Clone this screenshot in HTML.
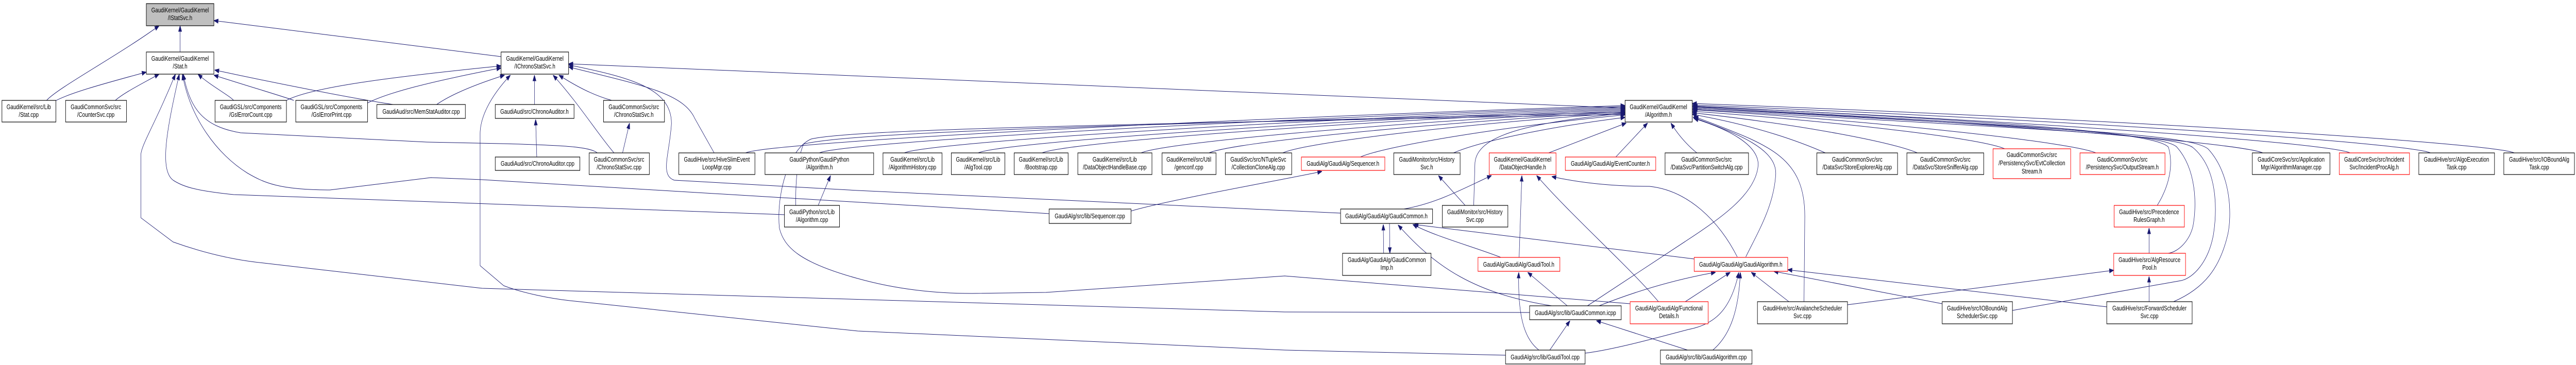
<!DOCTYPE html>
<html><head><meta charset="utf-8"><style>
html,body{margin:0;padding:0;background:#fff;overflow:hidden;}
svg{display:block;width:100vw;height:709px;}
text{font-family:"Liberation Sans",Arial,sans-serif;font-size:13px;fill:#000;text-anchor:middle;}
.e{fill:none;stroke:#191970;stroke-width:1;marker-start:url(#a);}
.n{fill:#fff;stroke:#000;stroke-width:1.2;}
.r{fill:#fff;stroke:#ff0000;stroke-width:1.2;}
</style></head><body>
<svg viewBox="0 0 6637 709" preserveAspectRatio="none" xmlns="http://www.w3.org/2000/svg" overflow="hidden">
<defs><marker id="a" markerUnits="userSpaceOnUse" markerWidth="12" markerHeight="10" refX="0" refY="0" viewBox="0 -5 12 10" orient="auto"><path d="M0,0 L11,-4 L11,4 z" fill="#191970" stroke="#191970"/></marker></defs>
<rect width="6637" height="709" fill="#fff"/>
<g>
<path class="e" d="M464,50 L464,101"/>
<path class="e" d="M410,50 C300,110 150,170 120,195"/>
<path class="e" d="M551,40 L1291,110"/>
<path class="e" d="M377,140 C280,160 180,180 140,197"/>
<path class="e" d="M410,144 C360,165 320,180 297,195"/>
<path class="e" d="M510,144 C540,165 590,185 602,195"/>
<path class="e" d="M551,146 C650,170 720,185 757,195"/>
<path class="e" d="M553,136 C700,160 900,190 1013,203"/>
<path class="e" d="M472,144 C490,210 520,245 620,258 L1100,276 L1291,279 C1450,282 1520,285 1539,297"/>
<path class="e" d="M470,144 C490,230 560,300 637,336 C680,355 720,369 850,369 L1110,345 L1242,349 L2703,415"/>
<path class="e" d="M462,144 C430,250 410,330 446,350 C470,362 500,370 602,378 L2021,417"/>
<path class="e" d="M452,144 C400,240 365,280 363,300 L363,423 L446,470 C520,490 600,505 680,511 L1242,560 L3310,606 L3941,607"/>
<path class="e" d="M1291,128 C1000,150 800,170 738,195"/>
<path class="e" d="M1291,132 C1100,160 1000,180 947,200"/>
<path class="e" d="M1300,146 C1200,170 1150,190 1125,203"/>
<path class="e" d="M1377,146 L1377,203"/>
<path class="e" d="M1380,232 L1383,305"/>
<path class="e" d="M1425,146 C1490,200 1540,260 1582,297"/>
<path class="e" d="M1622,239 L1604,297"/>
<path class="e" d="M1440,146 C1490,170 1530,185 1576,195"/>
<path class="e" d="M1465,130 C1650,165 1760,180 1790,230 L1840,297"/>
<path class="e" d="M1465,126 C1620,150 1730,170 1730,240 C1725,300 1700,340 1737,350 L2210,370 L3310,409 L3454,414"/>
<path class="e" d="M1315,146 C1260,190 1237,230 1237,260 L1237,516 L1298,555 C1350,570 1420,580 1468,584 L2210,643 L3310,680 L3879,690"/>
<path class="e" d="M1465,124 L4187,210"/>
<path class="e" d="M2140,341 L2108,399"/>
<path class="e" d="M3406,333 C3300,350 3000,390 2914,410"/>
<path class="e" d="M3706,341 L3775,399"/>
<path class="e" d="M4187,220 C3900,240 3800,270 3800,320 L3797,399"/>
<path class="e" d="M3843,341 C3760,370 3700,395 3617,406"/>
<path class="e" d="M3564,436 L3565,492"/>
<path class="e" d="M3581,492 L3580,434"/>
<path class="e" d="M3640,436 C3700,460 3800,480 3867,500"/>
<path class="e" d="M3921,341 L3914,500"/>
<path class="e" d="M3643,436 L4365,503"/>
<path class="e" d="M3998,343 C4100,360 4200,362 4250,362 C4350,370 4430,430 4476,499"/>
<path class="e" d="M3602,437 C3700,520 3800,570 3998,594"/>
<path class="e" d="M3936,529 L4038,594"/>
<path class="e" d="M4364,230 C4450,250 4530,280 4530,320 C4525,380 4420,430 4340,470 L4090,594"/>
<path class="e" d="M4420,529 C4300,545 4200,570 4120,594"/>
<path class="e" d="M3959,341 C4050,420 4200,520 4273,586"/>
<path class="e" d="M4458,529 L4342,586"/>
<path class="e" d="M4187,222 C3000,240 2200,250 2090,270 C2030,290 2000,380 2008,443 C2020,480 2060,510 2210,541 C2300,560 2400,570 2504,570 L2695,568 L3310,536 L4200,590"/>
<path class="e" d="M4187,218 C3000,240 2200,255 2070,280 C2050,320 2050,370 2050,399"/>
<path class="e" d="M3913,529 C3910,620 3930,660 3965,680"/>
<path class="e" d="M4045,623 L3993,680"/>
<path class="e" d="M4480,529 C4460,600 4420,630 4350,640 C4250,660 4150,680 4084,686"/>
<path class="e" d="M4113,623 L4348,680"/>
<path class="e" d="M4484,529 C4480,600 4460,650 4413,680"/>
<path class="e" d="M4512,529 L4609,586"/>
<path class="e" d="M4364,226 C4550,280 4650,300 4650,420 L4648,586"/>
<path class="e" d="M5446,525 L4760,592"/>
<path class="e" d="M4570,527 L5004,590"/>
<path class="e" d="M4362,212 C5200,250 5600,260 5649,286 C5720,330 5710,420 5703,455 C5690,510 5650,540 5620,545 L5185,603"/>
<path class="e" d="M4606,524 L5428,596"/>
<path class="e" d="M5537,537 L5537,586"/>
<path class="e" d="M4362,210 C5300,250 5650,260 5690,290 C5750,340 5750,420 5740,455 C5720,520 5680,560 5600,586"/>
<path class="e" d="M5537,443 L5537,492"/>
<path class="e" d="M4362,208 C5300,245 5580,262 5609,286 C5660,330 5660,400 5650,440 C5640,470 5610,490 5586,492"/>
<path class="e" d="M4362,206 C5300,240 5560,262 5587,286 C5600,320 5590,360 5558,399"/>
<path class="e" d="M4362,228 C4480,260 4580,290 4575,340 C4570,400 4530,450 4498,499"/>
<path class="e" d="M4245,239 L4163,305"/>
<path class="e" d="M4305,239 C4330,270 4360,290 4372,297"/>
<path class="e" d="M4190,239 L3990,297"/>
<path class="e" d="M4187,205 C3054,233 1981,277 1921,297"/>
<path class="e" d="M4187,207 C3149,234 2171,277 2111,297"/>
<path class="e" d="M4187,209 C3258,235 2390,277 2330,297"/>
<path class="e" d="M4187,211 C3353,237 2580,277 2520,297"/>
<path class="e" d="M4187,213 C3436,238 2745,277 2685,297"/>
<path class="e" d="M4187,215 C3563,239 3000,277 2940,297"/>
<path class="e" d="M4187,217 C3651,241 3175,277 3115,297"/>
<path class="e" d="M4187,219 C3746,242 3365,277 3305,297"/>
<path class="e" d="M4187,223 C3846,248 3565,285 3505,305"/>
<path class="e" d="M4187,228 C3966,249 3805,277 3745,297"/>
<path class="e" d="M4360,222 C4531,245 4643,277 4703,297"/>
<path class="e" d="M4360,219 C4650,243 4880,277 4940,297"/>
<path class="e" d="M4360,216 C4762,238 5105,269 5165,289"/>
<path class="e" d="M4360,213 C4880,238 5340,277 5400,297"/>
<path class="e" d="M4360,210 C5095,236 5770,277 5830,297"/>
<path class="e" d="M4360,207 C5207,234 5995,277 6055,297"/>
<path class="e" d="M4360,204 C5311,232 6202,277 6262,297"/>
<path class="e" d="M4360,201 C5419,230 6418,277 6478,297"/>
</g>
<g>
<rect x="377" y="7" width="174" height="43" fill="#bfbfbf" stroke="#000" stroke-width="1.2"/><text x="464" y="24">GaudiKernel/GaudiKernel</text><text x="464" y="39">/IStatSvc.h</text>
<rect class="n" x="377" y="101" width="174" height="43"/><text x="464" y="118">GaudiKernel/GaudiKernel</text><text x="464" y="133">/Stat.h</text>
<rect class="n" x="5" y="195" width="139" height="42"/><text x="74" y="212">GaudiKernel/src/Lib</text><text x="74" y="227">/Stat.cpp</text>
<rect class="n" x="169" y="195" width="157" height="42"/><text x="247" y="212">GaudiCommonSvc/src</text><text x="247" y="227">/CounterSvc.cpp</text>
<rect class="n" x="554" y="195" width="184" height="42"/><text x="646" y="212">GaudiGSL/src/Components</text><text x="646" y="227">/GslErrorCount.cpp</text>
<rect class="n" x="762" y="195" width="185" height="42"/><text x="854" y="212">GaudiGSL/src/Components</text><text x="854" y="227">/GslErrorPrint.cpp</text>
<rect class="n" x="971" y="203" width="228" height="27"/><text x="1085" y="221">GaudiAud/src/MemStatAuditor.cpp</text>
<rect class="n" x="1291" y="101" width="174" height="43"/><text x="1378" y="118">GaudiKernel/GaudiKernel</text><text x="1378" y="133">/IChronoStatSvc.h</text>
<rect class="n" x="1276" y="203" width="203" height="27"/><text x="1377" y="221">GaudiAud/src/ChronoAuditor.h</text>
<rect class="n" x="1555" y="195" width="157" height="42"/><text x="1633" y="212">GaudiCommonSvc/src</text><text x="1633" y="227">/ChronoStatSvc.h</text>
<rect class="n" x="1276" y="305" width="218" height="26"/><text x="1385" y="322">GaudiAud/src/ChronoAuditor.cpp</text>
<rect class="n" x="1518" y="297" width="155" height="42"/><text x="1595" y="314">GaudiCommonSvc/src</text><text x="1595" y="329">/ChronoStatSvc.cpp</text>
<rect class="n" x="1749" y="297" width="196" height="42"/><text x="1847" y="314">GaudiHive/src/HiveSlimEvent</text><text x="1847" y="329">LoopMgr.cpp</text>
<rect class="n" x="1971" y="297" width="280" height="42"/><text x="2111" y="314">GaudiPython/GaudiPython</text><text x="2111" y="329">/Algorithm.h</text>
<rect class="n" x="2021" y="399" width="142" height="42"/><text x="2092" y="416">GaudiPython/src/Lib</text><text x="2092" y="431">/Algorithm.cpp</text>
<rect class="n" x="2275" y="297" width="152" height="42"/><text x="2351" y="314">GaudiKernel/src/Lib</text><text x="2351" y="329">/AlgorithmHistory.cpp</text>
<rect class="n" x="2451" y="297" width="138" height="42"/><text x="2520" y="314">GaudiKernel/src/Lib</text><text x="2520" y="329">/AlgTool.cpp</text>
<rect class="n" x="2613" y="297" width="139" height="42"/><text x="2682" y="314">GaudiKernel/src/Lib</text><text x="2682" y="329">/Bootstrap.cpp</text>
<rect class="n" x="2777" y="297" width="191" height="42"/><text x="2872" y="314">GaudiKernel/src/Lib</text><text x="2872" y="329">/DataObjectHandleBase.cpp</text>
<rect class="n" x="2994" y="297" width="139" height="42"/><text x="3063" y="314">GaudiKernel/src/Util</text><text x="3063" y="329">/genconf.cpp</text>
<rect class="n" x="3157" y="297" width="171" height="42"/><text x="3242" y="314">GaudiSvc/src/NTupleSvc</text><text x="3242" y="329">/CollectionCloneAlg.cpp</text>
<rect class="n" x="2703" y="406" width="211" height="28"/><text x="2808" y="424">GaudiAlg/src/lib/Sequencer.cpp</text>
<rect class="r" x="3353" y="305" width="215" height="26"/><text x="3460" y="322">GaudiAlg/GaudiAlg/Sequencer.h</text>
<rect class="n" x="3591" y="297" width="171" height="42"/><text x="3676" y="314">GaudiMonitor/src/History</text><text x="3676" y="329">Svc.h</text>
<rect class="r" x="3837" y="297" width="172" height="42"/><text x="3923" y="314">GaudiKernel/GaudiKernel</text><text x="3923" y="329">/DataObjectHandle.h</text>
<rect class="r" x="4033" y="305" width="233" height="26"/><text x="4149" y="322">GaudiAlg/GaudiAlg/EventCounter.h</text>
<rect class="n" x="4290" y="297" width="215" height="42"/><text x="4397" y="314">GaudiCommonSvc/src</text><text x="4397" y="329">/DataSvc/PartitionSwitchAlg.cpp</text>
<rect class="n" x="4187" y="195" width="173" height="42"/><text x="4273" y="212">GaudiKernel/GaudiKernel</text><text x="4273" y="227">/Algorithm.h</text>
<rect class="n" x="3716" y="399" width="169" height="42"/><text x="3800" y="416">GaudiMonitor/src/History</text><text x="3800" y="431">Svc.cpp</text>
<rect class="n" x="3454" y="406" width="237" height="28"/><text x="3572" y="424">GaudiAlg/GaudiAlg/GaudiCommon.h</text>
<rect class="n" x="3459" y="492" width="228" height="43"/><text x="3573" y="509">GaudiAlg/GaudiAlg/GaudiCommon</text><text x="3573" y="524">Imp.h</text>
<rect class="r" x="3808" y="500" width="211" height="27"/><text x="3913" y="518">GaudiAlg/GaudiAlg/GaudiTool.h</text>
<rect class="r" x="4365" y="500" width="241" height="27"/><text x="4485" y="518">GaudiAlg/GaudiAlg/GaudiAlgorithm.h</text>
<rect class="n" x="3941" y="594" width="236" height="27"/><text x="4059" y="612">GaudiAlg/src/lib/GaudiCommon.icpp</text>
<rect class="r" x="4200" y="586" width="201" height="43"/><text x="4300" y="603">GaudiAlg/GaudiAlg/Functional</text><text x="4300" y="618">Details.h</text>
<rect class="n" x="3879" y="680" width="205" height="27"/><text x="3981" y="698">GaudiAlg/src/lib/GaudiTool.cpp</text>
<rect class="n" x="4278" y="680" width="236" height="27"/><text x="4396" y="698">GaudiAlg/src/lib/GaudiAlgorithm.cpp</text>
<rect class="n" x="4681" y="297" width="208" height="42"/><text x="4785" y="314">GaudiCommonSvc/src</text><text x="4785" y="329">/DataSvc/StoreExplorerAlg.cpp</text>
<rect class="n" x="4913" y="297" width="198" height="42"/><text x="5012" y="314">GaudiCommonSvc/src</text><text x="5012" y="329">/DataSvc/StoreSnifferAlg.cpp</text>
<rect class="r" x="5135" y="289" width="200" height="58"/><text x="5235" y="305">GaudiCommonSvc/src</text><text x="5235" y="321">/PersistencySvc/EvtCollection</text><text x="5235" y="337">Stream.h</text>
<rect class="r" x="5359" y="297" width="219" height="42"/><text x="5468" y="314">GaudiCommonSvc/src</text><text x="5468" y="329">/PersistencySvc/OutputStream.h</text>
<rect class="r" x="5447" y="399" width="181" height="42"/><text x="5537" y="416">GaudiHive/src/Precedence</text><text x="5537" y="431">RulesGraph.h</text>
<rect class="r" x="5446" y="492" width="185" height="43"/><text x="5538" y="509">GaudiHive/src/AlgResource</text><text x="5538" y="524">Pool.h</text>
<rect class="n" x="4528" y="586" width="232" height="43"/><text x="4644" y="603">GaudiHive/src/AvalancheScheduler</text><text x="4644" y="618">Svc.cpp</text>
<rect class="n" x="5004" y="586" width="181" height="43"/><text x="5094" y="603">GaudiHive/src/IOBoundAlg</text><text x="5094" y="618">SchedulerSvc.cpp</text>
<rect class="n" x="5428" y="586" width="220" height="43"/><text x="5538" y="603">GaudiHive/src/ForwardScheduler</text><text x="5538" y="618">Svc.cpp</text>
<rect class="n" x="5803" y="297" width="200" height="42"/><text x="5903" y="314">GaudiCoreSvc/src/Application</text><text x="5903" y="329">Mgr/AlgorithmManager.cpp</text>
<rect class="r" x="6027" y="297" width="181" height="42"/><text x="6117" y="314">GaudiCoreSvc/src/Incident</text><text x="6117" y="329">Svc/IncidentProcAlg.h</text>
<rect class="n" x="6232" y="297" width="195" height="42"/><text x="6329" y="314">GaudiHive/src/AlgoExecution</text><text x="6329" y="329">Task.cpp</text>
<rect class="n" x="6451" y="297" width="182" height="42"/><text x="6542" y="314">GaudiHive/src/IOBoundAlg</text><text x="6542" y="329">Task.cpp</text>
</g>
</svg>
</body></html>
